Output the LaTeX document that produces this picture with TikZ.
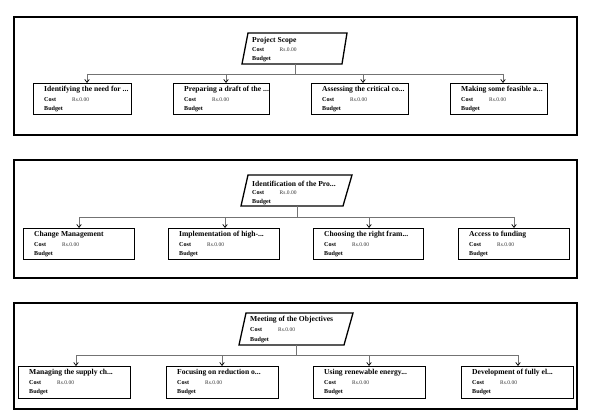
\documentclass[tikz,border=0pt]{standalone}
\usepackage{fontspec}
\setmainfont{Liberation Serif}
\usetikzlibrary{arrows.meta}
\tikzset{
 panel/.style={draw, line width=2.6pt},
 kid/.style={draw, line width=1.3pt},
 conn/.style={draw=black!55, line width=0.7pt},
 arr/.style={conn, -{Straight Barb[length=3pt,width=4.5pt,color=black,line width=0.7pt]}},
 ttl/.style={anchor=west, inner sep=0pt, font=\bfseries\fontsize{7.6}{8}\selectfont},
 lbl/.style={anchor=west, inner sep=0pt, font=\bfseries\fontsize{6.1}{7}\selectfont},
 val/.style={anchor=west, inner sep=0pt, font=\fontsize{5.5}{6}\selectfont, text=black!80},
}
\newcommand\kidbox[6]{%
 \node[kid, anchor=north west, inner sep=0pt, minimum width={(#4-#2)*1pt}, minimum height={(#5-#3)*1pt}] (#1) at (#2,#3) {};
 \node[ttl] (#1t) at (#2+11,#3+7) {#6};
 \node[lbl] (#1c) at (#2+11,#3+16.5) {Cost};
 \node[val] (#1v) at (#2+39,#3+16.5) {Rs.0.00};
 \node[lbl] (#1b) at (#2+11,#3+26) {Budget};
}
\begin{document}
\begin{tikzpicture}[x=1pt,y=-1pt]
\useasboundingbox (0,0) rectangle (589,417);
\fill[white] (0,0) rectangle (589,417);

% ---------- Panel 1
\draw[panel] (14,17) rectangle (577,135);
\draw[kid] (248,33) -- (347,33) -- (342,64) -- (242,64) -- cycle;
\node[ttl] (p1t) at (252,40.5) {Project Scope};
\node[lbl] (p1c) at (252,50) {Cost};
\node[val] (p1v) at (279.5,50) {Rs.0.00};
\node[lbl] (p1b) at (252,59.5) {Budget};
\coordinate (r1) at (295,64);
\kidbox{c11}{33}{83}{131}{114}{Identifying the need for ...}
\kidbox{c12}{173}{83}{269}{114}{Preparing a draft of the ...}
\kidbox{c13}{311}{83}{408}{114}{Assessing the critical co...}
\kidbox{c14}{450}{83}{547}{114}{Making some feasible a...}
\coordinate (a11) at (87,74);
\coordinate (a12) at (226,74);
\coordinate (a13) at (363,74);
\coordinate (a14) at (503,74);
\draw[conn] (r1) -- (r1 |- a11);
\draw[conn] (a11) -- (a14);
\foreach \i in {1,2,3,4}{\draw[arr] (a1\i) -- (a1\i |- c1\i.north);}

% ---------- Panel 2
\draw[panel] (14,160) rectangle (577,278);
\draw[kid] (248,175) -- (352,175) -- (343,206) -- (241,206) -- cycle;
\node[ttl] (p2t) at (252,183.5) {Identification of the Pro...};
\node[lbl] (p2c) at (252,193) {Cost};
\node[val] (p2v) at (279.5,193) {Rs.0.00};
\node[lbl] (p2b) at (252,202) {Budget};
\coordinate (r2) at (297,206);
\kidbox{c21}{23}{228}{134}{259}{Change Management}
\kidbox{c22}{168}{228}{279}{259}{Implementation of high-...}
\kidbox{c23}{313}{228}{423}{259}{Choosing the right fram...}
\kidbox{c24}{458}{228}{569}{259}{Access to funding}
\coordinate (a21) at (79,217);
\coordinate (a22) at (225,217);
\coordinate (a23) at (369,217);
\coordinate (a24) at (514,217);
\draw[conn] (r2) -- (r2 |- a21);
\draw[conn] (a21) -- (a24);
\foreach \i in {1,2,3,4}{\draw[arr] (a2\i) -- (a2\i |- c2\i.north);}

% ---------- Panel 3
\draw[panel] (14,303) rectangle (577,409);
\draw[kid] (246,313) -- (353,313) -- (344,345) -- (239,345) -- cycle;
\node[ttl] (p3t) at (250,319.5) {Meeting of the Objectives};
\node[lbl] (p3c) at (250,330) {Cost};
\node[val] (p3v) at (278,330) {Rs.0.00};
\node[lbl] (p3b) at (250,340) {Budget};
\coordinate (r3) at (296,345);
\kidbox{c31}{18}{366}{130}{398}{Managing the supply ch...}
\kidbox{c32}{166}{366}{278}{398}{Focusing on reduction o...}
\kidbox{c33}{313}{366}{425}{398}{Using renewable energy...}
\kidbox{c34}{461}{366}{573}{398}{Development of fully el...}
\coordinate (a31) at (76,355);
\coordinate (a32) at (222,355);
\coordinate (a33) at (369,355);
\coordinate (a34) at (518,355);
\draw[conn] (r3) -- (r3 |- a31);
\draw[conn] (a31) -- (a34);
\foreach \i in {1,2,3,4}{\draw[arr] (a3\i) -- (a3\i |- c3\i.north);}
\end{tikzpicture}
\end{document}
